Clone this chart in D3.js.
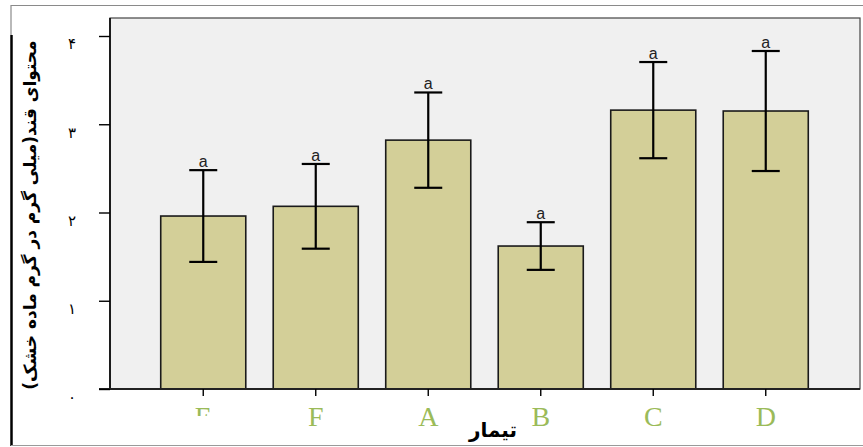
<!DOCTYPE html>
<html>
<head>
<meta charset="utf-8">
<script src="https://cdn.jsdelivr.net/npm/d3@7"></script>
<style>
  html, body { margin: 0; padding: 0; background: #fff; }
  svg { display: block; }
</style>
</head>
<body>
<svg id="chart" width="863" height="447"></svg>
<script>
// Treatments and mean sugar content (mg per g dry matter) with error half-widths
const treatments = ["E", "F", "A", "B", "C", "D"];
const means = [1.96, 2.07, 2.82, 1.62, 3.16, 3.15];
const errors = [0.52, 0.48, 0.54, 0.27, 0.545, 0.68];
const groupLetters = ["a", "a", "a", "a", "a", "a"];
const yTicks = [0, 1, 2, 3, 4];
const yTickLabels = ["۰", "۱", "۲", "۳", "۴"];
const yTitle = "محتوای قند(میلی گرم در گرم ماده خشک)";
const xTitle = "تیمار";

const svg = d3.select("#chart");
const plot = { left: 110, right: 860, top: 18, bottom: 389 };

const x = d3.scaleBand()
  .domain(treatments)
  .range([147, 822])
  .paddingInner(0.244)
  .paddingOuter(0.122);

const y = d3.scaleLinear()
  .domain([0, 4])
  .range([plot.bottom, plot.bottom - 4 * 88.25]);

// Outer frame lines
svg.append("line").attr("x1", 11).attr("x2", 863).attr("y1", 5.5).attr("y2", 5.5)
  .attr("stroke", "#8a8a8a").attr("stroke-width", 1.2);
svg.append("line").attr("x1", 11).attr("x2", 11).attr("y1", 5).attr("y2", 35)
  .attr("stroke", "#8a8a8a").attr("stroke-width", 1.2);
svg.append("line").attr("x1", 11.5).attr("x2", 11.5).attr("y1", 35).attr("y2", 446)
  .attr("stroke", "#000").attr("stroke-width", 2.5);
svg.append("line").attr("x1", 11).attr("x2", 863).attr("y1", 445.5).attr("y2", 445.5)
  .attr("stroke", "#9a9a9a").attr("stroke-width", 1.2);

// Plot background
svg.append("rect")
  .attr("x", plot.left).attr("y", plot.top)
  .attr("width", plot.right - plot.left).attr("height", plot.bottom - plot.top)
  .attr("fill", "#f0f0f0")
  .attr("stroke", "#444").attr("stroke-width", 1.2);

// Bars
svg.append("g").selectAll("rect")
  .data(treatments)
  .join("rect")
  .attr("x", d => x(d))
  .attr("y", (d, i) => y(means[i]))
  .attr("width", x.bandwidth())
  .attr("height", (d, i) => y(0) - y(means[i]))
  .attr("fill", "#d3cf98")
  .attr("stroke", "#1a1a1a")
  .attr("stroke-width", 1.6);

// Error bars
const capHalf = 14;
const eg = svg.append("g").attr("stroke", "#000").attr("stroke-width", 2.2);
treatments.forEach((t, i) => {
  const cx = x(t) + x.bandwidth() / 2;
  const hi = y(means[i] + errors[i]);
  const lo = y(means[i] - errors[i]);
  eg.append("line").attr("x1", cx).attr("x2", cx).attr("y1", hi).attr("y2", lo);
  eg.append("line").attr("x1", cx - capHalf).attr("x2", cx + capHalf).attr("y1", hi).attr("y2", hi);
  eg.append("line").attr("x1", cx - capHalf).attr("x2", cx + capHalf).attr("y1", lo).attr("y2", lo);
});

// Group letters above the error bars
svg.append("g").selectAll("text")
  .data(treatments)
  .join("text")
  .attr("x", d => x(d) + x.bandwidth() / 2)
  .attr("y", (d, i) => y(means[i] + errors[i]) - 3)
  .attr("text-anchor", "middle")
  .attr("font-family", "Arial, 'Liberation Sans', sans-serif")
  .attr("font-size", 16)
  .attr("fill", "#222")
  .text((d, i) => groupLetters[i]);

// Axis lines
svg.append("line").attr("x1", plot.left).attr("x2", plot.left)
  .attr("y1", plot.top).attr("y2", plot.bottom)
  .attr("stroke", "#000").attr("stroke-width", 1.6);
svg.append("line").attr("x1", plot.left - 11).attr("x2", plot.right)
  .attr("y1", plot.bottom).attr("y2", plot.bottom)
  .attr("stroke", "#222").attr("stroke-width", 2.2);

// Y axis ticks and labels
const yAxis = d3.axisLeft(y)
  .tickValues(yTicks)
  .tickSize(11)
  .tickFormat((d, i) => yTickLabels[i]);
const yg = svg.append("g")
  .attr("transform", `translate(${plot.left},0)`)
  .call(yAxis);
yg.select(".domain").remove();
yg.selectAll(".tick line").attr("stroke", "#000").attr("stroke-width", 1.4);
yg.selectAll(".tick text")
  .attr("x", -38)
  .attr("dy", "0.85em")
  .attr("text-anchor", "middle")
  .attr("font-family", "'DejaVu Sans', sans-serif")
  .attr("font-size", 15)
  .attr("fill", "#000");

// X axis ticks and labels
const clip = svg.append("defs").append("clipPath").attr("id", "firstLabelClip");
clip.append("rect").attr("x", -60).attr("y", -20).attr("width", 120).attr("height", 47);

const xAxis = d3.axisBottom(x).tickSize(7);
const xg = svg.append("g")
  .attr("transform", `translate(0,${plot.bottom})`)
  .call(xAxis);
xg.select(".domain").remove();
xg.selectAll(".tick line").attr("stroke", "#000").attr("stroke-width", 1.4);
xg.selectAll(".tick text")
  .attr("y", 37)
  .attr("dy", null)
  .attr("font-family", "'Liberation Serif', 'Times New Roman', serif")
  .attr("font-size", 28)
  .attr("fill", "#9bbb59");
// The leftmost label is cut off at its lower half
xg.select(".tick text").attr("clip-path", "url(#firstLabelClip)");

// Axis titles
svg.append("text")
  .attr("x", 493).attr("y", 437)
  .attr("text-anchor", "middle")
  .attr("font-family", "'DejaVu Sans', sans-serif")
  .attr("font-weight", "bold")
  .attr("font-size", 20)
  .attr("fill", "#000")
  .text(xTitle);

svg.append("text")
  .attr("transform", "translate(36,215) rotate(-90)")
  .attr("text-anchor", "middle")
  .attr("font-family", "'DejaVu Sans', sans-serif")
  .attr("font-weight", "bold")
  .attr("font-size", 17)
  .attr("fill", "#000")
  .text(yTitle);
</script>
</body>
</html>
